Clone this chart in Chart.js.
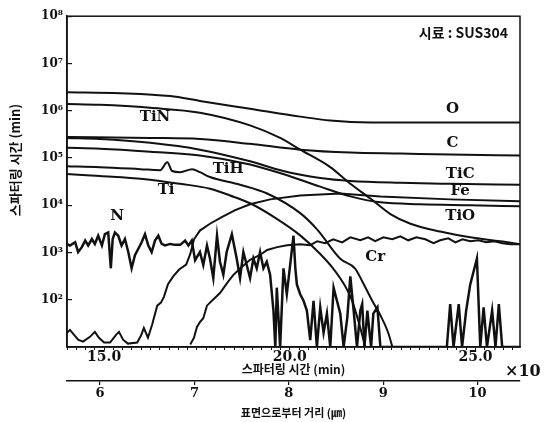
<!DOCTYPE html>
<html>
<head>
<meta charset="utf-8">
<script src="https://cdn.jsdelivr.net/npm/chart.js@4.4.1/dist/chart.umd.min.js"></script>
<style>
  html, body { margin: 0; padding: 0; background: #fff; }
  #wrap { width: 545px; height: 422px; position: relative; }
</style>
</head>
<body>
<div id="wrap"><canvas id="depthChart"></canvas></div>
<script>
// Sputter depth profile of a TiN-coated SUS304 sample, log intensity vs sputtering time.

// ----- data (time in units of x10 min) -----
const oTime = [14.0, 15.43, 16.78, 17.58, 18.93, 20.28, 21.09, 22.17, 24.32, 26.2];
const oVal = [2.47e6, 2.35e6, 2.04e6, 1.61e6, 1.10e6, 7.5e5, 6.2e5, 5.66e5, 5.66e5, 5.66e5];

const tinTime = [14.0, 14.89, 16.24, 17.58, 18.93, 19.74, 20.28, 21.09, 21.63, 22.17, 22.71, 23.25, 24.05, 24.86, 25.67, 26.2];
const tinVal = [1.39e6, 1.33e6, 1.15e6, 9.1e5, 4.9e5, 2.65e5, 1.5e5, 6.4e4, 2.84e4, 1.39e4, 6.5e3, 4.06e3, 2.77e3, 2.09e3, 1.73e3, 1.5e3];

const cTime = [14.0, 16.24, 17.58, 18.93, 20.28, 21.63, 22.98, 24.32, 26.2];
const cVal = [2.77e5, 2.65e5, 2.52e5, 1.99e5, 1.5e5, 1.3e5, 1.24e5, 1.18e5, 1.13e5];

const ticTime = [14.0, 14.89, 16.24, 17.58, 18.93, 19.82, 20.82, 21.63, 22.98, 24.32, 26.2];
const ticVal = [2.65e5, 2.52e5, 2.09e5, 1.5e5, 8.5e4, 5.3e4, 3.78e4, 3.27e4, 2.98e4, 2.84e4, 2.71e4];

const tioTime = [14.0, 14.89, 16.24, 17.58, 18.93, 19.82, 20.82, 21.63, 22.44, 23.52, 24.86, 26.2];
const tioVal = [1.64e5, 1.57e5, 1.36e5, 1.13e5, 7.3e4, 4.57e4, 2.47e4, 1.54e4, 1.15e4, 1.05e4, 1.0e4, 9.5e3];

const tihTime = [14.0, 14.89, 15.97, 16.51, 16.70, 16.83, 17.05, 17.37, 17.58, 17.85, 18.66, 19.39, 20.28, 20.74, 21.36, 21.76, 21.95, 22.22, 22.44, 22.65, 22.76];
const tihVal = [6.7e4, 6.4e4, 5.8e4, 5.5e4, 8.1e4, 5.3e4, 5.0e4, 5.8e4, 5.0e4, 3.96e4, 2.71e4, 1.77e4, 6.8e3, 3.05e3, 735, 457, 247, 95, 47, 20, 10.2];

const tiTime = [14.0, 14.89, 16.05, 17.05, 17.85, 18.39, 18.93, 19.61, 20.28, 20.82, 21.17, 21.49, 21.68, 21.84, 21.95, 22.03];
const tiVal = [4.57e4, 4.16e4, 3.61e4, 2.84e4, 2.24e4, 1.61e4, 1.1e4, 5.4e3, 2.3e3, 931, 457, 195, 95, 37, 18, 10.2];

const feTime = [14.0, 14.08, 14.19, 14.30, 14.43, 14.62, 14.75, 14.86, 15.0, 15.16, 15.32, 15.40, 15.51, 15.64, 15.89, 15.99, 16.07, 16.18, 16.29, 16.43,
  16.53, 16.61, 16.72, 16.86, 17.02, 17.21, 17.32, 17.42, 17.58, 17.85, 18.18, 18.53, 18.93, 19.47, 20.28, 21.36, 22.44, 24.32, 26.2];
const feVal = [19.9, 23, 18.1, 14.3, 13.0, 16.4, 20.9, 15.7, 12.4, 12.4, 18.1, 20.9, 14.3, 11.8, 12.4, 17.3, 25.2, 15.7, 29.1, 75,
  87, 115, 214, 313, 436, 553, 931, 1.9e3, 2.91e3, 4.06e3, 5.66e3, 7.9e3, 1.05e4, 1.33e4, 1.61e4, 1.77e4, 1.53e4, 1.33e4, 1.21e4];

const crTime = [17.32, 17.42, 17.50, 17.58, 17.67, 17.77, 17.85, 17.96, 18.12, 18.31, 18.47, 18.66, 18.93, 19.20, 19.39, 19.66, 19.93, 20.28, 20.55, 20.74,
  20.95, 21.17, 21.41, 21.63, 21.90, 22.11, 22.30, 22.52, 22.76, 22.98, 23.19, 23.41, 23.65, 23.87, 24.05, 24.27, 24.46, 24.65, 24.86, 25.08,
  25.29, 25.51, 25.73, 25.94, 26.2];
const crVal = [11.3, 15.7, 26.5, 33.6, 40.6, 75, 87, 105, 139, 224, 328, 457, 700, 887, 1130, 1300, 1430, 1500, 1430, 1730,
  1570, 1900, 1640, 2090, 1810, 2090, 1730, 2090, 1900, 2190, 1810, 2090, 1900, 1570, 1810, 1990, 1640, 1900, 1730, 1810,
  1640, 1730, 1570, 1500, 1500];

const nTime = [14.0, 14.08, 14.22, 14.30, 14.40, 14.49, 14.57, 14.67, 14.75, 14.84, 14.94, 15.02, 15.11, 15.18, 15.23, 15.29, 15.38, 15.47, 15.56, 15.65,
  15.74, 15.83, 15.92, 16.01, 16.10, 16.19, 16.28, 16.37, 16.46, 16.55, 16.64, 16.78, 16.91, 17.05, 17.18, 17.27, 17.36, 17.45,
  17.58, 17.67, 17.77, 17.85, 17.94, 18.04, 18.12, 18.21, 18.30, 18.44, 18.57, 18.66, 18.75, 18.84, 18.93, 19.02, 19.11, 19.20, 19.29, 19.38,
  19.47, 19.56, 19.61, 19.65, 19.74, 19.83, 19.92, 20.01, 20.10, 20.15, 20.19, 20.28, 20.37, 20.46, 20.55, 20.64, 20.73, 20.82, 20.91, 21.00,
  21.09, 21.18, 21.27, 21.36, 21.45, 21.55, 21.63, 21.72, 21.81, 21.90, 21.95, 22.01, 22.09, 22.14, 22.19, 22.25, 22.36, 22.44,
  24.23, 24.32, 24.41, 24.55, 24.64, 24.75, 24.86, 25.04, 25.13, 25.22, 25.31, 25.45, 25.54, 25.63, 25.72, 26.2];
const nVal = [1500, 1406, 1645, 1023, 1297, 1786, 1406, 1928, 1518, 2263, 1406, 2443, 2650, 463, 1928, 2650, 2263, 1406, 1928, 1023,
  463, 875, 1197, 1645, 2443, 1406, 1023, 1786, 2263, 1518, 1406, 1518, 1449, 1449, 1786, 1406, 1786, 690,
  1023, 544, 1406, 745, 288, 2263, 637, 339, 1023, 2443, 745, 288, 1023, 544, 288, 745, 463, 1023, 463, 637,
  339, 59, 10, 180, 10, 463, 131, 544, 2263, 463, 211, 131, 95, 59, 14, 95, 10, 69, 20, 51,
  10, 180, 95, 51, 10, 43, 313, 59, 10, 59, 81, 10, 59, 23, 10, 51, 69, 10,
  10, 81, 10, 81, 10, 59, 211, 745, 10, 69, 10, 59, 10, 81, 10, 10];

// y tick labels (decades)
const yTickValues = [1e2, 1e3, 1e4, 1e5, 1e6, 1e7, 1e8];
const yTickLabels = ['10²', '10³', '10⁴', '10⁵', '10⁶', '10⁷', '10⁸'];
// labelled x ticks on the time axis
const timeLabelTicks = [15, 20, 25];

// curve names and where they are written (data coords)
const curveNames = ['O', 'C', 'TiC', 'Fe', 'TiO', 'Cr', 'N', 'Ti', 'TiH', 'TiN'];
const nameTime = [24.38, 24.38, 24.59, 24.59, 24.59, 22.30, 15.35, 16.67, 18.34, 16.37];
const nameVal = [1.1e6, 2.09e5, 4.57e4, 1.95e4, 5.9e3, 807, 5.9e3, 2.04e4, 5.8e4, 7.2e5];

const INK = '#111111';
const SERIF = "'DejaVu Serif', 'Liberation Serif', serif";
const KR = "'Noto Sans CJK KR', 'Noto Sans', sans-serif";

function pts(ts, vs) {
  return ts.map(function (t, i) { return { x: t, y: vs[i] }; });
}

function line(ts, vs, smooth, width) {
  return {
    data: pts(ts, vs),
    borderColor: INK,
    borderWidth: width || 2,
    pointRadius: 0,
    fill: false,
    tension: 0,
    cubicInterpolationMode: smooth ? 'monotone' : 'default',
    xAxisID: 'x',
    yAxisID: 'y'
  };
}

// frame + free text (curve names, sample name, x10, y title)
const annotatePlugin = {
  id: 'annotate',
  afterDraw: function (chart) {
    const ctx = chart.ctx;
    const a = chart.chartArea;
    const xs = chart.scales.x, ys = chart.scales.y;
    ctx.save();
    ctx.strokeStyle = INK;
    ctx.lineWidth = 1.5;
    ctx.strokeRect(a.left, a.top, a.right - a.left, a.bottom - a.top);

    ctx.fillStyle = INK;
    ctx.textAlign = 'center';
    ctx.textBaseline = 'middle';
    ctx.font = 'bold 15px ' + SERIF;
    curveNames.forEach(function (name, i) {
      ctx.fillText(name, xs.getPixelForValue(nameTime[i]), ys.getPixelForValue(nameVal[i]));
    });

    ctx.font = 'bold 14px ' + KR;
    ctx.textAlign = 'right';
    ctx.fillText('시료 : SUS304', a.right - 12, a.top + 16);

    ctx.font = 'bold 16px ' + SERIF;
    ctx.textAlign = 'left';
    ctx.fillText('×10', a.right - 15, xs.bottom - 9);

    ctx.translate(a.left - 52, 160);
    ctx.rotate(-Math.PI / 2);
    ctx.textAlign = 'center';
    ctx.font = 'bold 13px ' + KR;
    ctx.fillText('스파터링 시간 (min)', 0, 0);
    ctx.restore();
  }
};

new Chart(document.getElementById('depthChart'), {
  type: 'line',
  data: {
    datasets: [
      line(oTime, oVal, true),
      line(tinTime, tinVal, true),
      line(cTime, cVal, true),
      line(ticTime, ticVal, true),
      line(tioTime, tioVal, true),
      line(tihTime, tihVal, true),
      line(tiTime, tiVal, true),
      line(feTime, feVal, false),
      line(crTime, crVal, false),
      line(nTime, nVal, false, 2.5)
    ]
  },
  plugins: [annotatePlugin],
  options: {
    responsive: true,
    maintainAspectRatio: false,
    animation: false,
    layout: { padding: { top: 8, right: 25, bottom: 0, left: 0 } },
    plugins: { legend: { display: false }, tooltip: { enabled: false } },
    scales: {
      y: {
        type: 'logarithmic',
        position: 'left',
        min: 10,
        max: 1e8,
        afterBuildTicks: function (axis) {
          axis.ticks = yTickValues.map(function (v) { return { value: v, major: true }; });
        },
        afterFit: function (axis) { axis.width = 67; },
        ticks: {
          autoSkip: false,
          padding: 9,
          color: INK,
          font: { family: SERIF, weight: 'bold', size: 12 },
          callback: function (v) {
            const i = yTickValues.indexOf(v);
            return i >= 0 ? yTickLabels[i] : '';
          }
        },
        grid: { drawOnChartArea: false, tickLength: -5, color: INK, lineWidth: 1.2 },
        border: { color: INK, width: 1.5 }
      },
      x: {
        type: 'linear',
        position: 'bottom',
        min: 14,
        max: 26.2,
        afterFit: function (axis) { axis.height = 34; },
        ticks: {
          stepSize: 0.25,
          includeBounds: false,
          autoSkip: false,
          maxRotation: 0,
          padding: -1,
          color: INK,
          font: { family: SERIF, weight: 'bold', size: 14 },
          callback: function (v) {
            return timeLabelTicks.some(function (t) { return Math.abs(t - v) < 1e-6; }) ? v.toFixed(1) : '';
          }
        },
        grid: { drawOnChartArea: false, tickLength: 3, color: INK, lineWidth: 1 },
        border: { color: INK, width: 1.5 },
        title: {
          display: true,
          text: '스파터링 시간 (min)',
          color: INK,
          font: { family: KR, weight: 'bold', size: 12 },
          padding: { top: 0, bottom: 4 }
        }
      },
      x2: {
        type: 'linear',
        position: 'bottom',
        min: 5.65,
        max: 10.45,
        afterFit: function (axis) { axis.height = 41; },
        ticks: {
          stepSize: 1,
          includeBounds: false,
          autoSkip: false,
          maxRotation: 0,
          padding: 1,
          color: INK,
          font: { family: SERIF, weight: 'bold', size: 13 }
        },
        grid: { drawOnChartArea: false, tickLength: 4, color: INK, lineWidth: 1.2 },
        border: { color: INK, width: 1.5 },
        title: {
          display: true,
          text: '표면으로부터 거리 (㎛)',
          color: INK,
          font: { family: KR, weight: 'bold', size: 11 },
          padding: { top: 0, bottom: 3 }
        }
      }
    }
  }
});
</script>
</body>
</html>
